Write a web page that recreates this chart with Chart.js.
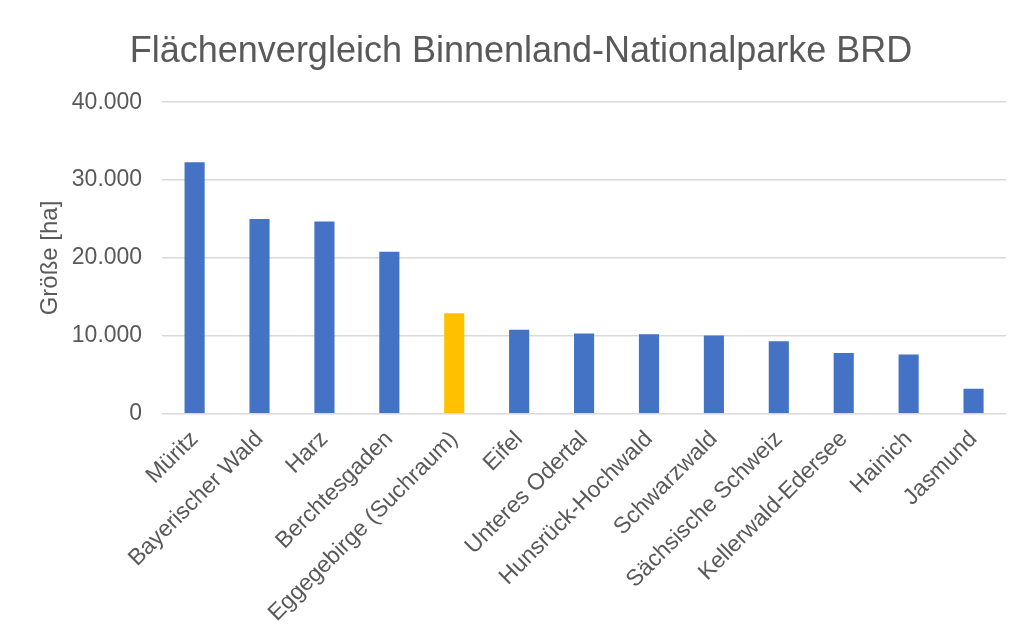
<!DOCTYPE html>
<html>
<head>
<meta charset="utf-8">
<script src="https://cdn.jsdelivr.net/npm/chart.js@4"></script>
<style>
    html, body { margin: 0; padding: 0; background: #fff; }
    #wrap { width: 1022px; height: 636px; }
</style>
</head>
<body>
<div id="wrap"><canvas id="areaChart" width="1022" height="636"></canvas></div>
<script>
// Parks and their area in hectares
const parks = ['Müritz', 'Bayerischer Wald', 'Harz', 'Berchtesgaden', 'Eggegebirge (Suchraum)', 'Eifel',
    'Unteres Odertal', 'Hunsrück-Hochwald', 'Schwarzwald', 'Sächsische Schweiz', 'Kellerwald-Edersee',
    'Hainich', 'Jasmund'];
const areaHa = [32300, 25000, 24700, 20800, 12900, 10800, 10300, 10200, 10050, 9300, 7800, 7600, 3200];
const highlight = 'Eggegebirge (Suchraum)';

const blue = '#4472C4';
const gold = '#FFC000';
const textGrey = '#595959';

// 10000 -> "10.000"
function formatDE(v) {
    return String(v).replace(/\B(?=(\d{3})+(?!\d))/g, '.');
}

Chart.defaults.font.family = '"Liberation Sans", Arial, sans-serif';
Chart.defaults.color = textGrey;

const ctx = document.getElementById('areaChart').getContext('2d');
new Chart(ctx, {
    type: 'bar',
    data: {
        labels: parks,
        datasets: [{
            label: 'Größe [ha]',
            data: areaHa,
            backgroundColor: parks.map(p => p === highlight ? gold : blue),
            barPercentage: 1,
            categoryPercentage: 0.31
        }]
    },
    options: {
        responsive: false,
        animation: false,
        layout: { padding: { left: 36, right: 16, top: 30, bottom: 5 } },
        plugins: {
            legend: { display: false },
            tooltip: { enabled: false },
            title: {
                display: true,
                text: 'Flächenvergleich Binnenland-Nationalparke BRD',
                font: { size: 36, weight: 'normal' },
                color: textGrey,
                padding: { top: 0, bottom: 29 }
            }
        },
        scales: {
            x: {
                grid: { display: false },
                border: { display: false },
                afterFit: s => { s.paddingLeft = 0; },
                ticks: {
                    font: { size: 23 },
                    color: textGrey,
                    minRotation: 45,
                    maxRotation: 45,
                    autoSkip: false,
                    padding: 4
                }
            },
            y: {
                min: 0,
                max: 40000,
                grid: { color: '#d9d9d9', drawTicks: false, lineWidth: 1.5 },
                border: { display: false },
                ticks: {
                    stepSize: 10000,
                    font: { size: 23 },
                    color: textGrey,
                    padding: 20,
                    callback: v => formatDE(v)
                },
                title: {
                    display: true,
                    text: 'Größe [ha]',
                    font: { size: 24 },
                    color: textGrey,
                    // pull the tick labels closer to the axis title
                    padding: { top: 0, bottom: -13 }
                }
            }
        }
    }
});
</script>
</body>
</html>
